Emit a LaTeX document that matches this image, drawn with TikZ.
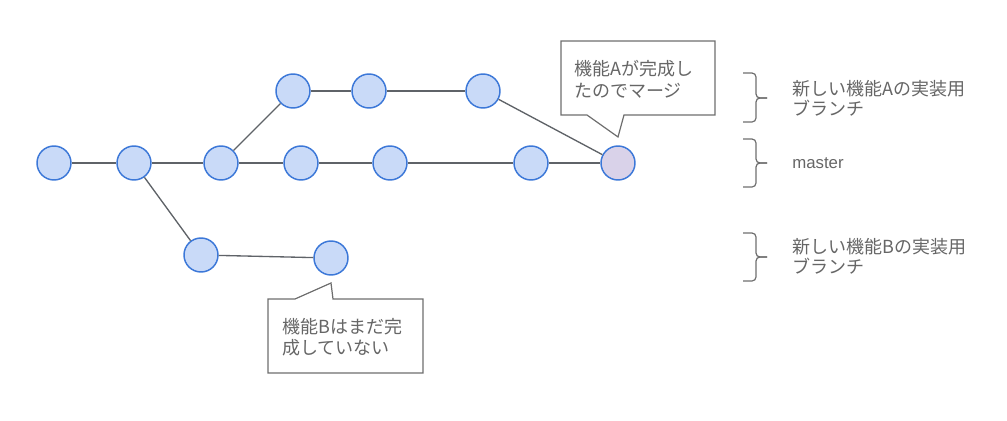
\documentclass[tikz,border=0pt]{standalone}
\usepackage{fontspec}
\setmainfont{Liberation Sans}
\newfontfamily\jp{Noto Sans CJK JP}
\definecolor{cfill}{HTML}{C9DAF8}
\definecolor{cline}{HTML}{3C78D8}
\definecolor{mfill}{HTML}{D9D2E9}
\definecolor{edge}{HTML}{5F6368}
\definecolor{txt}{HTML}{666666}
\definecolor{box}{HTML}{6E6E6E}
\begin{document}
\begin{tikzpicture}[x=0.75pt,y=-0.75pt,
  commit/.style={circle,draw=cline,fill=cfill,line width=1.1pt,minimum size=25.5pt,inner sep=0pt},
  merged/.style={commit,fill=mfill},
  link/.style={draw=edge,line width=1pt},
  lbl/.style={anchor=west,inner sep=0pt,text=txt,font=\jp\fontsize{13.5pt}{15pt}\selectfont,align=left},
  callout/.style={draw=box,line width=0.9pt,fill=white},
  bracestyle/.style={draw=box,line width=0.9pt,rounded corners=3pt}]
\useasboundingbox (0,0) rectangle (1007,421);
% commits
\node[commit] (m1) at (54,163) {};
\node[commit] (m2) at (134,163) {};
\node[commit] (m3) at (221,163) {};
\node[commit] (m4) at (301,163) {};
\node[commit] (m5) at (390,163) {};
\node[commit] (m6) at (531,163) {};
\node[merged] (m7) at (618,163) {};
\node[commit] (a1) at (293,91) {};
\node[commit] (a2) at (369,91) {};
\node[commit] (a3) at (483,91) {};
\node[commit] (b1) at (201,255) {};
\node[commit] (b2) at (331,258) {};
% edges
\path[link] (m1) -- (m2);
\path[link] (m2) -- (m3);
\path[link] (m3) -- (m4);
\path[link] (m4) -- (m5);
\path[link] (m5) -- (m6);
\path[link] (m6) -- (m7);
\path[link] (m3) -- (a1);
\path[link] (a1) -- (a2);
\path[link] (a2) -- (a3);
\path[link] (a3) -- (m7);
\path[link] (m2) -- (b1);
\path[link] (b1) -- (b2);
% callouts
\path[callout] (561,41) -- (715,41) -- (715,115) -- (624,115) -- (618,137) -- (587,115) -- (561,115) -- cycle;
\node[lbl] (ca) at (574,79) {機能Aが完成し\\[1.5pt]たのでマージ};
\path[callout] (268,299) -- (295,299) -- (331,283) -- (333,299) -- (423,299) -- (423,373) -- (268,373) -- cycle;
\node[lbl] (cb) at (282,337.5) {機能Bはまだ完\\[0.8pt]成していない};
% braces
\path[bracestyle] (743,73) -- (756,73) -- (756,98) -- (767,98);
\path[bracestyle] (743,122) -- (756,122) -- (756,98) -- (767,98);
\path[bracestyle] (743,139) -- (756,139) -- (756,163) -- (767,163);
\path[bracestyle] (743,187) -- (756,187) -- (756,163) -- (767,163);
\path[bracestyle] (743,233) -- (756,233) -- (756,257) -- (767,257);
\path[bracestyle] (743,281) -- (756,281) -- (756,257) -- (767,257);
% labels
\node[lbl] (la) at (792,98) {新しい機能Aの実装用\\ブランチ};
\node[lbl,font=\fontsize{12.6pt}{15pt}\selectfont] (lm) at (792,163) {master};
\node[lbl] (lb) at (792,256) {新しい機能Bの実装用\\ブランチ};
\end{tikzpicture}
\end{document}
